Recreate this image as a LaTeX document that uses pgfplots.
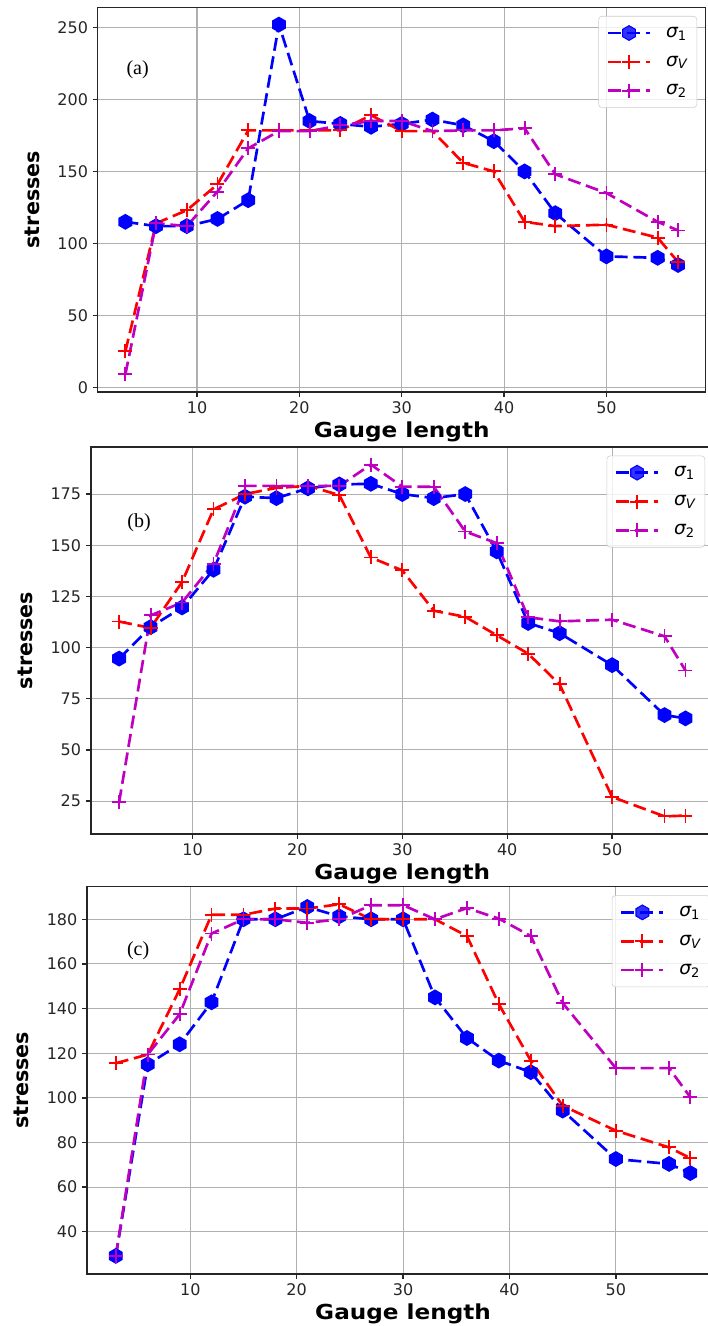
\documentclass[border=0pt]{standalone}
\usepackage{pgfplots}
\pgfplotsset{compat=1.18}
\usepackage{fontspec}
\setmainfont{DejaVu Sans}
\newfontfamily\widefont[FakeStretch=1.12]{DejaVu Sans}
\newfontfamily\timesfont{Liberation Serif}

\definecolor{mplblue}{rgb}{0,0,1}
\definecolor{mplred}{rgb}{1,0,0}
\definecolor{mplmag}{rgb}{0.75,0,0.75}
\definecolor{gridgray}{rgb}{0.69,0.69,0.69}
\definecolor{legedge}{rgb}{0.8,0.8,0.8}

% matplotlib 'h' marker (hexagon, vertex on top)
\pgfdeclareplotmark{hexagon}{%
  \pgfpathmoveto{\pgfpointpolar{90}{\pgfplotmarksize}}%
  \pgfpathlineto{\pgfpointpolar{150}{\pgfplotmarksize}}%
  \pgfpathlineto{\pgfpointpolar{210}{\pgfplotmarksize}}%
  \pgfpathlineto{\pgfpointpolar{270}{\pgfplotmarksize}}%
  \pgfpathlineto{\pgfpointpolar{330}{\pgfplotmarksize}}%
  \pgfpathlineto{\pgfpointpolar{30}{\pgfplotmarksize}}%
  \pgfpathclose
  \pgfusepathqfillstroke}

\pgfplotsset{
  panel/.style={
    scale only axis, anchor=south west,
    xmin=0.3, xmax=59.7, xtick={10,20,30,40,50},
    grid=major, major grid style={color=gridgray, line width=0.8pt},
    axis line style={black!85, line width=1.1pt},
    tick align=outside, major tick length=3.75pt,
    tick style={black!85, line width=1pt},
    xtick pos=bottom, ytick pos=left,
    ticklabel style={font=\fontsize{12}{14}\selectfont, text=black!85},
    /pgf/number format/assume math mode=true,
    xlabel={Gauge length}, ylabel={stresses},
    every axis x label/.style={at={(axis description cs:0.5,0)}, anchor=north,
      yshift=-22pt, inner sep=0pt, font=\widefont\fontsize{15.5}{17}\selectfont\bfseries},
    every axis y label/.style={at={(axis description cs:0,0.5)}, xshift=-49pt,
      rotate=90, anchor=center, inner sep=0pt, font=\fontsize{15.5}{17}\selectfont\bfseries},
    legend cell align=left,
    legend style={at={(1,1)}, anchor=north east, xshift=-6.5pt, yshift=-6.5pt,
      draw=legedge, rounded corners=2.5pt, fill=white, fill opacity=0.8, text opacity=1,
      font=\fontsize{14}{16}\selectfont, row sep=10.5pt, column sep=10pt,
      inner xsep=6pt, inner ysep=7pt, nodes={inner sep=1pt}},
    legend image code/.code={\draw[mark repeat=2, mark phase=2]
      plot coordinates {(0pt,0pt) (15.75pt,0pt) (31.5pt,0pt)};},
  },
  s1/.style={mplblue, line width=2pt, dash pattern=on 9.75pt off 4.3pt,
    mark=hexagon, mark size=5.5pt, mark options={solid, fill=mplblue, line width=0.8pt}},
  sv/.style={mplred, line width=2pt, dash pattern=on 9.75pt off 4.3pt,
    mark=+, mark size=5.25pt, mark options={solid, line width=1.4pt}},
  s2/.style={mplmag, line width=2pt, dash pattern=on 9.75pt off 4.3pt,
    mark=+, mark size=5.25pt, mark options={solid, line width=1.4pt}},
}

\newcommand{\sig}[1]{{\itshape σ}\textsubscript{#1}}

\begin{document}
\begin{tikzpicture}
\path[use as bounding box] (0,0) rectangle (530.25pt,994.5pt);

% (a)
\begin{axis}[panel, at={(73.3pt,700.5pt)}, width=456pt, height=288.5pt,
  ymin=-3.2, ymax=264, ytick={0,50,100,150,200,250}]
\addplot[s1] coordinates {(3,115)(6,112)(9,112)(12,117)(15,130)(18,252)(21,185)(24,183)(27,181)(30,183)(33,186)(36,182)(39,171)(42,150)(45,121)(50,91)(55,90)(57,85)};
\addlegendentry{\sig{1}}
\addplot[sv] coordinates {(3,25)(6,114)(9,123)(12,141)(15,178.5)(18,178.5)(21,178.5)(24,178.5)(27,189)(30,178)(33,178)(36,156)(39,150)(42,115)(45,112)(50,113)(55,104)(57,87)};
\addlegendentry{\sig{\itshape V}}
\addplot[s2] coordinates {(3,9)(6,114)(9,112)(12,136)(15,166)(18,178)(21,178)(24,182)(27,185)(30,185)(33,178)(36,178.5)(39,178.5)(42,180)(45,148)(50,135)(55,115)(57,109)};
\addlegendentry{\sig{2}}
\node[font=\timesfont\fontsize{15}{17}\selectfont] at (axis cs:4.2,220.9) {(a)};
\end{axis}

% (b)
\begin{axis}[panel, at={(68.1pt,369pt)}, width=467.25pt, height=290.25pt,
  ymin=8.9, ymax=198, ytick={25,50,75,100,125,150,175}]
\addplot[s1] coordinates {(3,94.6)(6,110)(9,119.6)(12,138)(15,173.7)(18,173)(21,177.8)(24,179.7)(27,180)(30,175)(33,173)(36,175)(39,147)(42,112)(45,107)(50,91.4)(55,67)(57,65.4)};
\addlegendentry{\sig{1}}
\addplot[sv] coordinates {(3,112.7)(6,109.6)(9,132)(12,167.5)(15,175)(18,178)(21,179)(24,174.5)(27,144)(30,137.7)(33,118)(36,115)(39,106)(42,97)(45,82)(50,27)(55,17.5)(57,17.9)};
\addlegendentry{\sig{\itshape V}}
\addplot[s2] coordinates {(3,24.4)(6,115.7)(9,122)(12,141)(15,179)(18,179)(21,179)(24,179)(27,189.4)(30,178.6)(33,178.6)(36,156.7)(39,151)(42,114.8)(45,112.8)(50,113.6)(55,105.5)(57,88.8)};
\addlegendentry{\sig{2}}
\node[font=\timesfont\fontsize{15}{17}\selectfont] at (axis cs:4.9,161.2) {(b)};
\end{axis}

% (c)
\begin{axis}[panel, at={(65.3pt,39pt)}, width=474pt, height=290.5pt,
  ymin=21.1, ymax=194.6, ytick={40,60,80,100,120,140,160,180}]
\addplot[s1] coordinates {(3,29.2)(6,115)(9,124)(12,142.8)(15,180)(18,180)(21,185.5)(24,181.3)(27,180)(30,180)(33,145)(36,126.8)(39,116.7)(42,111.5)(45,94.3)(50,72.6)(55,70.4)(57,66.3)};
\addlegendentry{\sig{1}}
\addplot[sv] coordinates {(3,115.5)(6,119.4)(9,148.6)(12,182)(15,182)(18,184.8)(21,184.8)(24,186.7)(27,180)(30,180)(33,180)(36,172.5)(39,142)(42,116.7)(45,96.5)(50,85.3)(55,77.8)(57,73)};
\addlegendentry{\sig{\itshape V}}
\addplot[s2] coordinates {(3,29.2)(6,119.4)(9,137.4)(12,173.6)(15,180)(18,180)(21,178.4)(24,180)(27,186.3)(30,186.3)(33,180)(36,185)(39,180.3)(42,172.5)(45,142.5)(50,113.3)(55,113.3)(57,100.3)};
\addlegendentry{\sig{2}}
\node[font=\timesfont\fontsize{15}{17}\selectfont] at (axis cs:5.1,165.8) {(c)};
\end{axis}
\end{tikzpicture}
\end{document}
